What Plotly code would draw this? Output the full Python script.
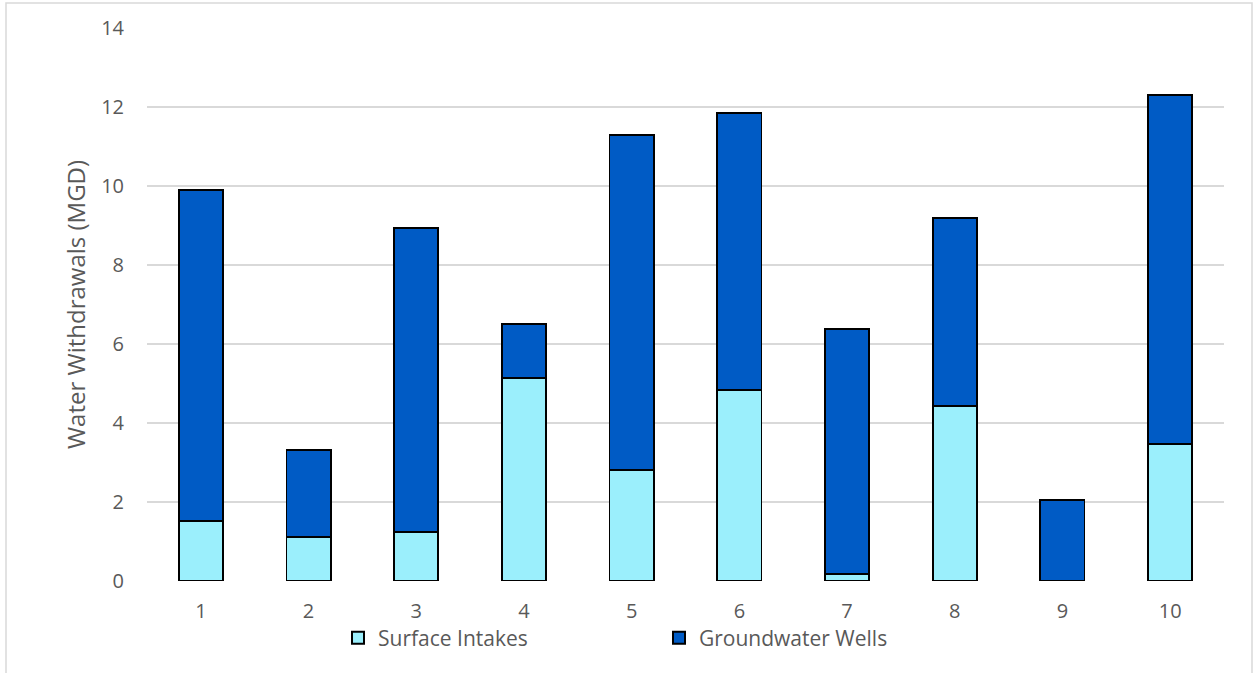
import plotly.graph_objects as go

# Facility numbers and daily withdrawal volumes (million gallons per day)
facilities = ["1", "2", "3", "4", "5", "6", "7", "8", "9", "10"]
surface_intakes = [1.52, 1.11, 1.24, 5.14, 2.81, 4.84, 0.18, 4.43, 0.0, 3.47]
groundwater_wells = [8.38, 2.21, 7.70, 1.37, 8.48, 7.01, 6.20, 4.76, 2.05, 8.83]
y_ticks = [0, 2, 4, 6, 8, 10, 12, 14]

W, H = 1254, 673
ML, MR, MT, MB = 147, 30, 28, 92
PW, PH = W - ML - MR, H - MT - MB

FONT = "Open Sans, Noto Sans, sans-serif"
GREY = "#595959"

fig = go.Figure()
fig.add_trace(go.Bar(
    x=facilities, y=surface_intakes, name="Surface Intakes",
    marker=dict(color="#9BEFFC", line=dict(color="#000000", width=1.8)),
    width=0.41,
))
fig.add_trace(go.Bar(
    x=facilities, y=groundwater_wells, name="Groundwater Wells",
    marker=dict(color="#005BC5", line=dict(color="#000000", width=1.8)),
    width=0.41,
))


def px_x(p):
    return (p - ML) / PW


def px_y(p):
    return 1 - (p - MT) / PH


fig.update_layout(
    width=W, height=H,
    barmode="stack",
    paper_bgcolor="white", plot_bgcolor="white",
    margin=dict(l=ML, r=MR, t=MT, b=MB, pad=0),
    font=dict(family=FONT, color=GREY, size=20),
    showlegend=True,
    legend=dict(
        orientation="h",
        x=px_x(338), xanchor="left",
        y=px_y(638), yanchor="middle",
        font=dict(family=FONT, size=21, color=GREY),
        entrywidth=276, entrywidthmode="pixels",
        itemsizing="constant",
        bgcolor="rgba(0,0,0,0)",
        traceorder="normal",
    ),
    xaxis=dict(
        type="category", range=[-0.5, 9.5],
        showgrid=False, zeroline=False, showline=False,
        ticks="", ticklabelstandoff=16,
        tickfont=dict(size=20, color=GREY),
    ),
    yaxis=dict(
        range=[0, 14], tickvals=y_ticks,
        showgrid=True, gridcolor="#D9D9D9", gridwidth=1.5,
        zeroline=False, showline=False, ticks="",
        ticklabelstandoff=22,
        tickfont=dict(size=20, color=GREY),
        title=dict(text="Water Withdrawals (MGD)", standoff=8,
                   font=dict(size=24, color=GREY)),
    ),
    shapes=[
        dict(type="rect", xref="paper", yref="paper",
             x0=px_x(6), x1=px_x(1252), y0=px_y(700), y1=px_y(3),
             line=dict(color="#D9D9D9", width=1.5), fillcolor="rgba(0,0,0,0)",
             layer="below"),
    ],
)

fig.write_html("out.html")
